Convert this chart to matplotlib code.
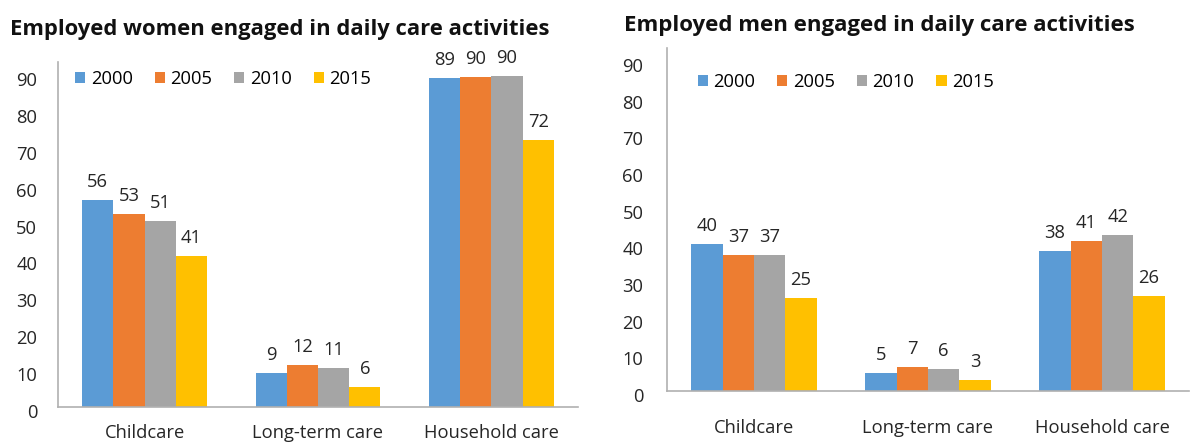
import matplotlib
matplotlib.use('Agg')
import matplotlib.pyplot as plt
import matplotlib.transforms as mtransforms
import numpy as np

plt.rcParams['font.family'] = ['Open Sans', 'DejaVu Sans']

categories = ['Childcare', 'Long-term care', 'Household care']
years = ['2000', '2005', '2010', '2015']
colors = ['#5B9BD5', '#ED7D31', '#A5A5A5', '#FFC000']

# bar heights, one list per year: childcare, long-term, household
women = {
    '2000': [56.0, 9.1, 89.2],
    '2005': [52.3, 11.5, 89.3],
    '2010': [50.5, 10.5, 89.8],
    '2015': [40.9, 5.5, 72.4],
}
women_labels = {
    '2000': ['56', '9', '89'],
    '2005': ['53', '12', '90'],
    '2010': ['51', '11', '90'],
    '2015': ['41', '6', '72'],
}
men = {
    '2000': [40.0, 5.0, 38.1],
    '2005': [37.0, 6.6, 40.8],
    '2010': [37.0, 6.0, 42.6],
    '2015': [25.3, 3.1, 25.8],
}
men_labels = {
    '2000': ['40', '5', '38'],
    '2005': ['37', '7', '41'],
    '2010': ['37', '6', '42'],
    '2015': ['25', '3', '26'],
}

W, H = 1202, 443
fig = plt.figure(figsize=(W / 100, H / 100), dpi=100)
FS = 13.2
TXT = '#262626'


def draw_panel(box, data, labels, title, title_xy, title_fs, legend_anchor, ytick_pad, xtick_pad):
    x0, y_top, x1, y_bot = box
    ax = fig.add_axes([x0 / W, 1 - y_bot / H, (x1 - x0) / W, (y_bot - y_top) / H])
    x = np.arange(len(categories))
    w = 0.18
    handles = []
    for i, yr in enumerate(years):
        pos = x + (i - 1.5) * w
        b = ax.bar(pos, data[yr], width=w, color=colors[i], label=yr, zorder=2)
        handles.append(b)
        for xx, yy, lab in zip(pos, data[yr], labels[yr]):
            ax.annotate(lab, (xx, yy), xytext=(0, 6.5), textcoords='offset points',
                        ha='center', va='bottom', fontsize=FS, color=TXT)
    ax.set_xlim(-0.5, 2.5)
    ax.set_ylim(0, 93.5)
    ax.set_yticks(range(0, 91, 10))
    ax.set_xticks(x)
    ax.set_xticklabels(categories)
    ax.tick_params(axis='y', length=0, pad=ytick_pad, labelsize=FS, labelcolor=TXT)
    ax.tick_params(axis='x', length=0, pad=xtick_pad, labelsize=FS, labelcolor=TXT)
    # tick numbers sit a little below their gridline in the original
    shift = mtransforms.ScaledTranslation(0, -4 / 100, fig.dpi_scale_trans)
    for lab in ax.get_yticklabels():
        lab.set_transform(lab.get_transform() + shift)
    for s in ['top', 'right']:
        ax.spines[s].set_visible(False)
    for s in ['left', 'bottom']:
        ax.spines[s].set_color('#b0b0b0')
        ax.spines[s].set_linewidth(1.2)
    ax.legend(handles=handles, loc='center left', bbox_to_anchor=legend_anchor, ncol=4,
              frameon=False, fontsize=FS, handlelength=0.55, handleheight=0.55,
              handletextpad=0.3, columnspacing=1.2, borderaxespad=0, borderpad=0)
    fig.text(title_xy[0] / W, 1 - title_xy[1] / H, title, fontsize=title_fs, fontweight='bold',
             color='#111111', ha='left', va='center')
    return ax


draw_panel((58, 62, 578, 407), women, women_labels,
           'Employed women engaged in daily care activities', (10, 29), 15.8,
           (0.033, 0.951), 15, 12)
draw_panel((667, 48, 1189, 391), men, men_labels,
           'Employed men engaged in daily care activities', (624, 25), 16,
           (0.059, 0.901), 17, 20)

fig.savefig('out.png', dpi=100)
